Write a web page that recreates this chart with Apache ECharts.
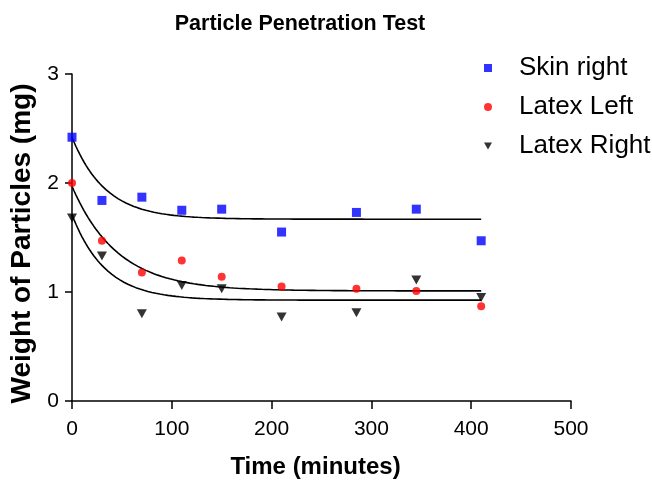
<!DOCTYPE html>
<html>
<head>
<meta charset="utf-8">
<script src="https://cdn.jsdelivr.net/npm/echarts@6/dist/echarts.min.js"></script>
<style>
  html, body { margin: 0; padding: 0; background: #fff; }
  #chart { width: 652px; height: 484px; }
</style>
</head>
<body>
<div id="chart"></div>
<script>
// Sampling times (minutes)
const times = [0, 30, 70, 110, 150, 210, 285, 345, 410];

// Measured particle weights (mg)
const skinRight  = [2.42, 1.84, 1.87, 1.75, 1.76, 1.55, 1.73, 1.76, 1.47];
const latexLeft  = [2.00, 1.47, 1.18, 1.29, 1.14, 1.05, 1.03, 1.01, 0.87];
const latexRight = [1.68, 1.33, 0.80, 1.06, 1.03, 0.77, 0.81, 1.11, 0.95];

const seriesNames = ['Skin right', 'Latex Left', 'Latex Right'];

// One-phase exponential decay fits: Y = plateau + (y0 - plateau) * exp(-k * t)
const fitY0      = [2.42, 1.97, 1.71];
const fitPlateau = [1.668, 1.01, 0.925];
const fitK       = [0.030, 0.022, 0.030];
const fitEnd     = 410;

const xTicks = [0, 100, 200, 300, 400, 500];
const yTicks = [0, 1, 2, 3];

// Downward-pointing triangle marker
const triangleDown = 'path://M0,0L10,0L5,9Z';

function fitCurve(i) {
  const pts = [];
  for (let t = 0; t <= fitEnd; t += 2) {
    pts.push([t, fitPlateau[i] + (fitY0[i] - fitPlateau[i]) * Math.exp(-fitK[i] * t)]);
  }
  return pts;
}

function pairs(vals) {
  return times.map((t, i) => [t, vals[i]]);
}

const font = '"Liberation Sans", Arial, sans-serif';
const chart = echarts.init(document.getElementById('chart'), null, { renderer: 'canvas' });

const fitLine = (i) => ({
  type: 'line',
  name: 'fit' + i,
  data: fitCurve(i),
  showSymbol: false,
  symbol: 'none',
  smooth: false,
  silent: true,
  z: 1,
  lineStyle: { color: '#000', width: 1.6 }
});

chart.setOption({
  animation: false,
  backgroundColor: '#fff',
  title: {
    text: 'Particle Penetration Test',
    left: 295,
    textAlign: 'center',
    top: 8,
    textStyle: { fontFamily: font, fontSize: 21.5, fontWeight: 'bold', color: '#000' }
  },
  legend: {
    data: [
      { name: seriesNames[0], icon: 'rect' },
      { name: seriesNames[1], icon: 'circle' },
      { name: seriesNames[2], icon: triangleDown }
    ],
    orient: 'vertical',
    left: 479,
    top: 50,
    itemWidth: 8,
    itemHeight: 8,
    itemGap: 13,
    textStyle: { fontFamily: font, fontSize: 26, color: '#000', padding: [0, 0, 0, 22] }
  },
  grid: { left: 71, right: 81, top: 74, bottom: 79, containLabel: false },
  xAxis: {
    type: 'value',
    min: xTicks[0],
    max: xTicks[xTicks.length - 1],
    interval: 100,
    name: 'Time (minutes)',
    nameLocation: 'middle',
    nameGap: 54,
    nameTextStyle: { fontFamily: font, fontSize: 24, fontWeight: 'bold', color: '#000', padding: [0, 12, 0, 0] },
    axisLine: { onZero: false, lineStyle: { color: '#000', width: 1.5 } },
    axisTick: { show: true, inside: false, length: 8, lineStyle: { color: '#000', width: 1.5 } },
    axisLabel: { fontFamily: font, fontSize: 21, color: '#000', margin: 18 },
    splitLine: { show: false }
  },
  yAxis: {
    type: 'value',
    min: yTicks[0],
    max: yTicks[yTicks.length - 1],
    interval: 1,
    name: 'Weight of Particles (mg)',
    nameLocation: 'middle',
    nameGap: 36,
    nameTextStyle: { fontFamily: font, fontSize: 28, fontWeight: 'bold', color: '#000', padding: [0, 12, 0, 0] },
    axisLine: { show: true, onZero: false, lineStyle: { color: '#000', width: 1.5 } },
    axisTick: { show: true, inside: false, length: 7, lineStyle: { color: '#000', width: 1.5 } },
    axisLabel: { fontFamily: font, fontSize: 21, color: '#000', margin: 13 },
    splitLine: { show: false }
  },
  series: [
    fitLine(0), fitLine(1), fitLine(2),
    {
      type: 'scatter', name: seriesNames[0], data: pairs(skinRight),
      symbol: 'rect', symbolSize: 9, z: 3,
      itemStyle: { color: '#0000ff' }
    },
    {
      type: 'scatter', name: seriesNames[1], data: pairs(latexLeft),
      symbol: 'circle', symbolSize: 8, z: 3,
      itemStyle: { color: '#ff0000' }
    },
    {
      type: 'scatter', name: seriesNames[2], data: pairs(latexRight),
      symbol: triangleDown, symbolSize: [10, 9], z: 3,
      itemStyle: { color: '#000' }
    }
  ]
});
</script>
</body>
</html>
